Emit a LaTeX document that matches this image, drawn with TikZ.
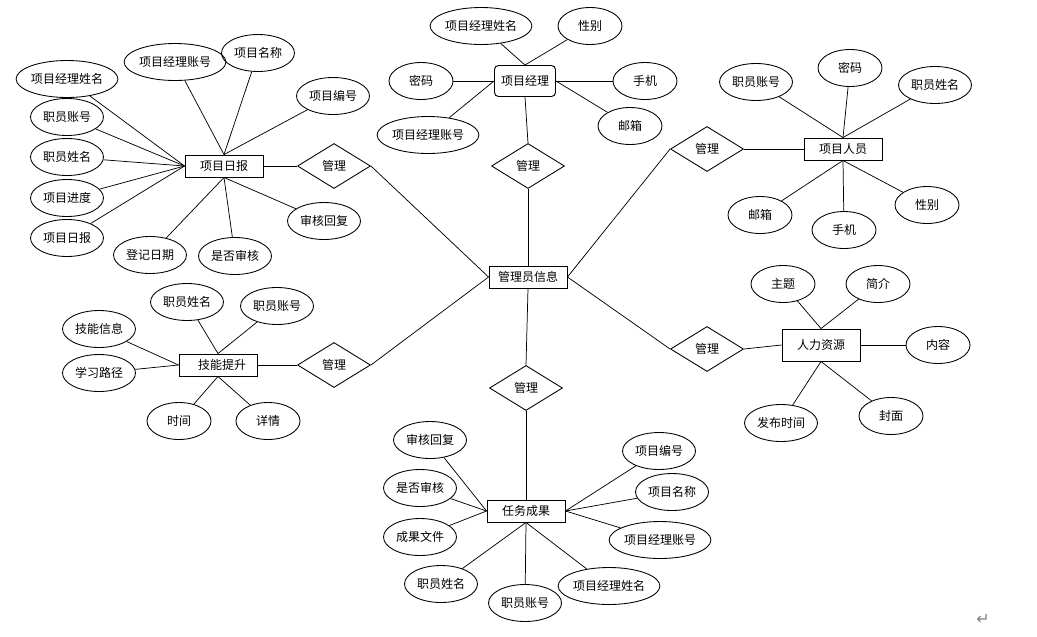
\documentclass[tikz,border=0pt]{standalone}
\usepackage{fontspec}
\setmainfont{Noto Sans CJK SC}
\newfontfamily\symfont{DejaVu Sans}
\usetikzlibrary{shapes.geometric}

\tikzset{
	entity/.style={draw, line width=0.7pt, minimum width=58.5pt, minimum height=16.5pt, inner sep=1pt},
	attr/.style={draw, ellipse, line width=0.65pt, minimum width=48pt, minimum height=27.75pt, inner sep=0pt},
	attrm/.style={attr, minimum width=54.75pt},
	attrl/.style={attr, minimum width=73.5pt},
	rel/.style={draw, diamond, line width=0.65pt, minimum width=54.75pt, minimum height=33.75pt, inner sep=0pt},
	link/.style={line width=0.55pt}
}

\begin{document}
\begin{tikzpicture}[x=0.75pt, y=-0.75pt, font=\fontsize{9}{10}\selectfont]
			\useasboundingbox (0,0) rectangle (1037,636);

			% entities
			\node[entity] (rb) at (224,166) {项目日报};
			\node[entity, rounded corners=3pt, minimum width=45.75pt, minimum height=23.25pt] (jl) at (525,81) {项目经理};
			\node[entity] (ry) at (843,149) {项目人员};
			\node[entity] (gly) at (528,277) {管理员信息};
			\node[entity, minimum height=24pt] (rl) at (821,345) {人力资源};
			\node[entity] (jn) at (218,365) {\hspace{6pt}技能提升};
			\node[entity] (cg) at (526,511) {任务成果};

			% relations
			\node[rel] (m1) at (334,166) {管理};
			\node[rel] (m2) at (528,166) {管理};
			\node[rel] (m3) at (707,149) {管理};
			\node[rel] (m4) at (707,349) {管理};
			\node[rel] (m5) at (526,388) {管理};
			\node[rel] (m6) at (334,365) {管理};

			% 项目日报
			\node[attrl] (rb1) at (67,79) {项目经理姓名};
			\node[attrl] (rb2) at (175,62) {项目经理账号};
			\node[attrm] (rb3) at (258,53) {项目名称};
			\node[attrm] (rb4) at (333,96) {项目编号};
			\node[attrm] (rb5) at (67,117) {职员账号};
			\node[attrm] (rb6) at (67,157) {职员姓名};
			\node[attrm] (rb7) at (67,198) {项目进度};
			\node[attrm] (rb8) at (67,238) {项目日报};
			\node[attrm] (rb9) at (150,255) {登记日期};
			\node[attrm] (rb10) at (235,256) {是否审核};
			\node[attrm] (rb11) at (324,221) {审核回复};

			% 项目经理
			\node[attrl] (jl1) at (481,26) {项目经理姓名};
			\node[attr] (jl2) at (590,26) {性别};
			\node[attr] (jl3) at (421,81) {密码};
			\node[attr] (jl4) at (645,81) {手机};
			\node[attrl] (jl5) at (428,135) {项目经理账号};
			\node[attr] (jl6) at (630,126) {邮箱};

			% 项目人员
			\node[attrm] (ry1) at (756,82) {职员账号};
			\node[attr] (ry2) at (850,68) {密码};
			\node[attrm] (ry3) at (935,85) {职员姓名};
			\node[attr] (ry4) at (760,215) {邮箱};
			\node[attr] (ry5) at (844,230) {手机};
			\node[attr] (ry6) at (927,205) {性别};

			% 人力资源
			\node[attr] (rl1) at (783,284) {主题};
			\node[attr] (rl2) at (878,284) {简介};
			\node[attr] (rl3) at (938,345) {内容};
			\node[attrm] (rl4) at (781,423) {发布时间};
			\node[attr] (rl5) at (891,416) {封面};

			% 技能提升
			\node[attrm] (jn1) at (187,302) {职员姓名};
			\node[attrm] (jn2) at (277,306) {职员账号};
			\node[attrm] (jn3) at (99,329) {技能信息};
			\node[attrm] (jn4) at (99,373) {学习路径};
			\node[attr] (jn5) at (179,421) {时间};
			\node[attr] (jn6) at (268,421) {详情};

			% 任务成果
			\node[attrm] (cg1) at (430,440) {审核回复};
			\node[attrm] (cg2) at (420,488) {是否审核};
			\node[attrm] (cg3) at (420,537) {成果文件};
			\node[attrm] (cg4) at (441,584) {职员姓名};
			\node[attrm] (cg5) at (525,603) {职员账号};
			\node[attrl] (cg6) at (609,586) {项目经理姓名};
			\node[attrm] (cg7) at (659,451) {项目编号};
			\node[attrm] (cg8) at (672,492) {项目名称};
			\node[attrl] (cg9) at (660,540) {项目经理账号};

			\node[text=gray, font=\fontsize{12}{12}\selectfont] (ret) at (983,619) {\symfont ↵};

			% attribute links
			\foreach \a in {rb1,rb5,rb6,rb7,rb8} \draw[link] (\a) -- (rb.west);
			\foreach \a in {rb2,rb3,rb4} \draw[link] (\a) -- (rb.north);
			\foreach \a in {rb9,rb10,rb11} \draw[link] (\a) -- (rb.south);

			\foreach \a in {jl1,jl2} \draw[link] (\a) -- (jl.north);
			\foreach \a in {jl3,jl5} \draw[link] (\a) -- (jl.west);
			\foreach \a in {jl4,jl6} \draw[link] (\a) -- (jl.east);

			\foreach \a in {ry1,ry2,ry3} \draw[link] (\a) -- (ry.north);
			\foreach \a in {ry4,ry5,ry6} \draw[link] (\a) -- (ry.south);

			\foreach \a in {rl1,rl2} \draw[link] (\a) -- (rl.north);
			\draw[link] (rl3) -- (rl.east);
			\foreach \a in {rl4,rl5} \draw[link] (\a) -- (rl.south);

			\foreach \a in {jn1,jn2} \draw[link] (\a) -- (jn.north);
			\foreach \a in {jn3,jn4} \draw[link] (\a) -- (jn.west);
			\foreach \a in {jn5,jn6} \draw[link] (\a) -- (jn.south);

			\foreach \a in {cg1,cg2,cg3} \draw[link] (\a) -- (cg.west);
			\foreach \a in {cg4,cg5,cg6} \draw[link] (\a) -- (cg.south);
			\foreach \a in {cg7,cg8,cg9} \draw[link] (\a) -- (cg.east);

			% relation links
			\draw[link] (rb.east) -- (m1.west);
			\draw[link] (m1.east) -- (gly.west);
			\draw[link] (jl.south) -- (m2.north);
			\draw[link] (m2.south) -- (gly.north);
			\draw[link] (gly.east) -- (m3.west);
			\draw[link] (m3.east) -- (ry.west);
			\draw[link] (gly.east) -- (m4.west);
			\draw[link] (m4.east) -- (rl.west);
			\draw[link] (gly.south) -- (m5.north);
			\draw[link] (m5.south) -- (cg.north);
			\draw[link] (jn.east) -- (m6.west);
			\draw[link] (m6.east) -- (gly.west);
		\end{tikzpicture}
\end{document}
